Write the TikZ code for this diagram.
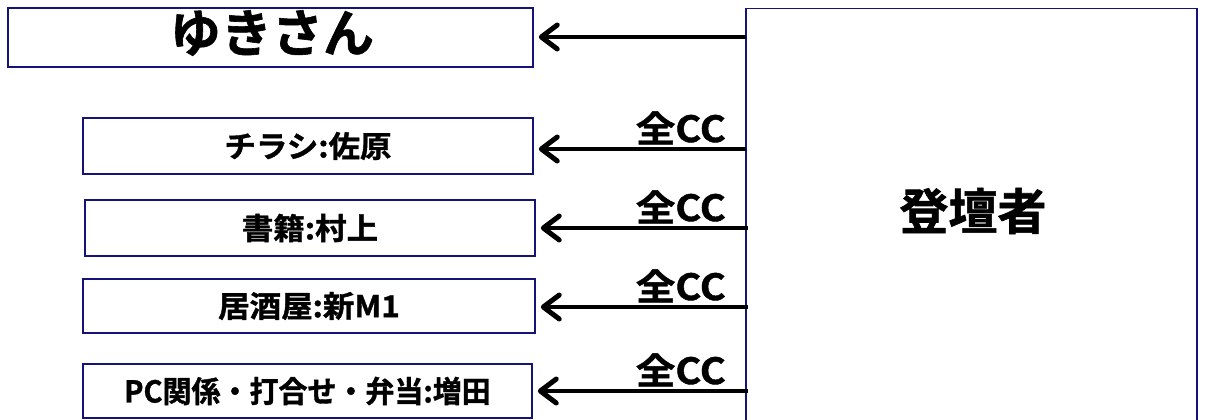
\documentclass[tikz,border=0pt]{standalone}
\usepackage{fontspec}
\setmainfont{Noto Sans CJK JP}[BoldFont={* Bold}, BoldFeatures={FakeBold=1.2}]
\usetikzlibrary{arrows.meta}
\definecolor{navy}{RGB}{20,20,120}
\tikzset{
  box/.style={draw=navy, line width=1.5pt, fill=white, inner sep=0pt},
  lbl/.style={font=\bfseries\fontsize{30}{33}\selectfont, xscale=1.05, inner sep=0pt},
  cc/.style={font=\bfseries\fontsize{36}{38}\selectfont, xscale=1.1, inner sep=0pt, anchor=base east},
  arr/.style={line width=4.5pt, -{Straight Barb[length=16pt, width=24pt, line width=5pt, round]}, shorten >=5pt},
}
\begin{document}
\begin{tikzpicture}[x=1pt, y=-1pt]
\useasboundingbox (0,0) rectangle (1205,420);
% big boxes
\node[box, minimum width=525pt, minimum height=59pt] (yuki) at (270.5,37.5) {};
\node[font=\bfseries\fontsize{51}{54}\selectfont, inner sep=0pt] (yukit) at (272,33) {ゆきさん};
\node[box, minimum width=451pt, minimum height=460pt, anchor=north west] (dan) at (745,8) {};
\node[font=\bfseries\fontsize{49}{52}\selectfont, inner sep=0pt] (dant) at (973,211) {登壇者};
% small boxes
\node[box, minimum width=450pt, minimum height=56pt] (b1) at (308,146) {};
\node[box, minimum width=450pt, minimum height=56pt] (b2) at (310,228) {};
\node[box, minimum width=452pt, minimum height=54pt] (b3) at (309,306) {};
\node[box, minimum width=449pt, minimum height=54pt] (b4) at (307.5,391) {};
\node[lbl] (t1) at (b1.center) {チラシ:佐原};
\node[lbl] (t2) at (b2.center) {書籍:村上};
\node[lbl] (t3) at (b3.center) {居酒屋:新M1};
\node[lbl, xscale=0.92] (t4) at (b4.center) {PC関係・打合せ・弁当:増田};
% arrows
\coordinate (s0) at (746,37);
\coordinate (s1) at (746,149);
\coordinate (s2) at (748,228);
\coordinate (s3) at (748,307);
\coordinate (s4) at (748,391);
\draw[arr] (s0) -- (s0 -| yuki.east);
\draw[arr] (s1) -- (s1 -| b1.east);
\draw[arr] (s2) -- (s2 -| b2.east);
\draw[arr] (s3) -- (s3 -| b3.east);
\draw[arr] (s4) -- (s4 -| b4.east);
% labels
\node[cc] (c1) at (726,142) {全CC};
\node[cc] (c2) at (726,221) {全CC};
\node[cc] (c3) at (726,300) {全CC};
\node[cc] (c4) at (726,384) {全CC};
\end{tikzpicture}
\end{document}
